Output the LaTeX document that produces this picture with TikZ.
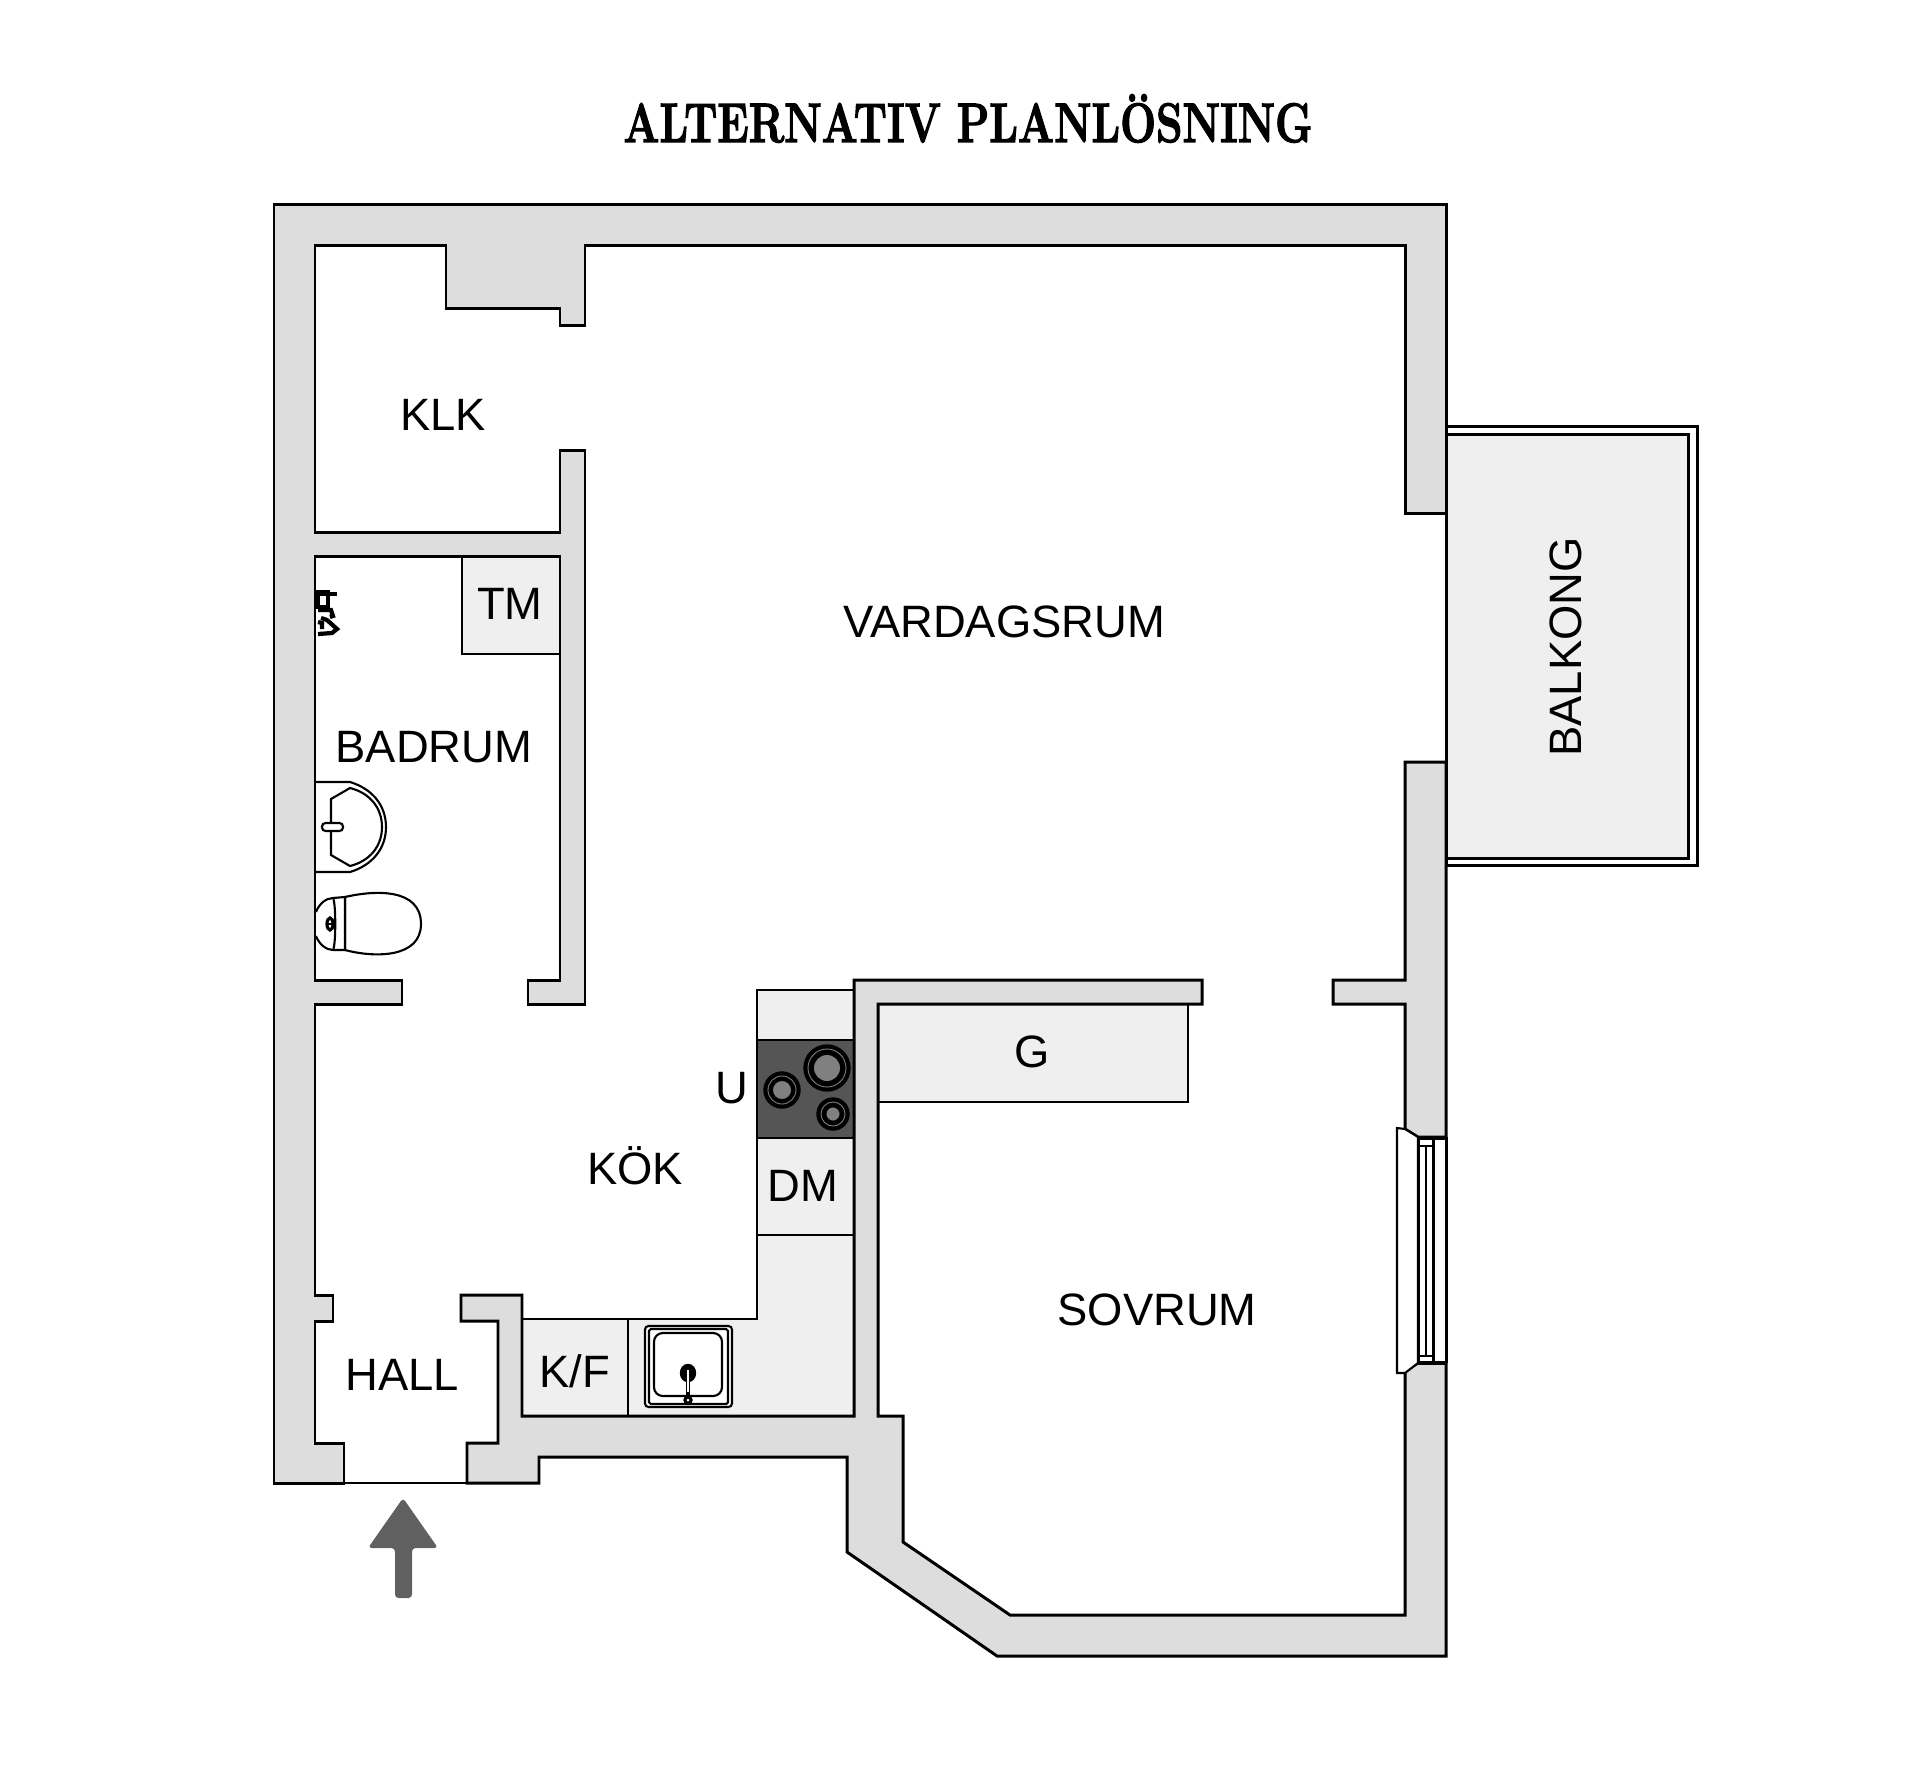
\documentclass[tikz,border=0pt]{standalone}
\usepackage{fontspec}
\newfontfamily\labelfont{Liberation Sans}
\newfontfamily\titlefont[BoldFeatures={FakeBold=2.4}]{Latin Modern Roman}

\begin{document}
\begin{tikzpicture}[x=0.01cm,y=-0.01cm]
  \definecolor{wallgrey}{HTML}{DDDDDD}
  \definecolor{unitgrey}{HTML}{EFEFEF}
  \definecolor{hobgrey}{HTML}{555555}
  \definecolor{ringgrey}{HTML}{808080}
  \definecolor{arrowgrey}{HTML}{606060}
  \tikzstyle{wall}=[draw=black,fill=wallgrey,line width=0.85pt,line join=miter]
  \tikzstyle{unit}=[draw=black,fill=unitgrey,line width=0.7pt]
  \tikzstyle{fixture}=[draw=black,fill=white,line width=0.6pt]
  \tikzstyle{roomlabel}=[font=\labelfont\fontsize{12.9pt}{14pt}\selectfont,inner sep=0pt,text height=9.3pt,text depth=0pt]
  \useasboundingbox (0,0) rectangle (1920,1787);

  % balcony
  \draw[line width=0.85pt,fill=white] (1446,426) rectangle (1697,865);
  \draw[line width=0.85pt,fill=unitgrey] (1446,434) rectangle (1688,858);

  % kitchen units
  \fill[unitgrey] (522,1319) -- (757,1319) -- (757,990) -- (854,990) -- (854,1416) -- (522,1416) -- cycle;
  \draw[line width=0.7pt] (522,1319) -- (757,1319) -- (757,990) -- (854,990);
  \draw[line width=0.7pt] (522,1416) -- (854,1416);
  \draw[line width=0.7pt] (757,1235) -- (854,1235);
  \draw[line width=0.7pt] (628,1319) -- (628,1416);
  \draw[line width=0.7pt,fill=hobgrey] (757,1040) rectangle (854,1138);
  \draw[unit] (878,1004) rectangle (1188,1102);
  \draw[unit] (462,556) rectangle (560,654);

  % walls
  \draw[wall] (344,1483) -- (274,1483) -- (274,204) -- (1446,204) -- (1446,513) -- (1405,513) -- (1405,245)
    -- (585,245) -- (585,325) -- (560,325) -- (560,308) -- (446,308) -- (446,245) -- (315,245) -- (315,532)
    -- (560,532) -- (560,450) -- (585,450) -- (585,1004) -- (528,1004) -- (528,980) -- (560,980) -- (560,556)
    -- (315,556) -- (315,980) -- (402,980) -- (402,1004) -- (315,1004) -- (315,1295) -- (333,1295) -- (333,1321)
    -- (315,1321) -- (315,1443) -- (344,1443) -- cycle;
  \draw[wall] (467,1483) -- (539,1483) -- (539,1457) -- (847,1457) -- (847,1552) -- (997,1656) -- (1446,1656)
    -- (1446,1363) -- (1418,1363) -- (1405,1371) -- (1405,1615) -- (1010,1615) -- (903,1542) -- (903,1416)
    -- (878,1416) -- (878,1004) -- (1202,1004) -- (1202,980) -- (854,980) -- (854,1416) -- (522,1416)
    -- (522,1295) -- (461,1295) -- (461,1321) -- (498,1321) -- (498,1443) -- (467,1443) -- cycle;
  \draw[wall] (1333,980) -- (1405,980) -- (1405,762) -- (1446,762) -- (1446,1137) -- (1418,1137) -- (1405,1129)
    -- (1405,1004) -- (1333,1004) -- cycle;
  \draw[line width=0.7pt] (344,1483) -- (467,1483);

  % window
  \draw[fixture] (1405,1129) -- (1397,1128) -- (1397,1373) -- (1405,1373) -- (1418,1363) -- (1418,1137) -- cycle;
  \draw[line width=0.85pt] (1418,1137) -- (1418,1363);
  \draw[line width=0.85pt] (1433,1137) -- (1433,1363);
  \draw[line width=0.85pt] (1446,1137) -- (1446,1363);
  \draw[line width=0.7pt] (1426,1146) -- (1426,1356);
  \draw[line width=0.7pt] (1418,1146) -- (1433,1146);
  \draw[line width=0.7pt] (1418,1356) -- (1433,1356);
  \draw[line width=1pt] (1418,1138) -- (1446,1138);
  \draw[line width=1pt] (1418,1363) -- (1446,1363);

  % hob
  \draw[fill=black,line width=0.4pt] (827,1068) circle (23);
  \draw[draw=ringgrey,line width=0.25pt] (827,1068) circle (19);
  \draw[draw=black,fill=ringgrey,line width=0.5pt] (827,1068) circle (14);
  \draw[fill=black,line width=0.4pt] (782,1090) circle (18);
  \draw[draw=ringgrey,line width=0.25pt] (782,1090) circle (14);
  \draw[draw=black,fill=ringgrey,line width=0.5pt] (782,1090) circle (10);
  \draw[fill=black,line width=0.4pt] (833,1114) circle (16);
  \draw[draw=ringgrey,line width=0.25pt] (833,1114) circle (12);
  \draw[draw=black,fill=ringgrey,line width=0.5pt] (833,1114) circle (7.5);

  % sink
  \draw[fixture,rounded corners=1pt] (645,1326) rectangle (732,1407);
  \draw[fixture,rounded corners=0.5pt] (649,1329) rectangle (728,1404);
  \draw[fixture,rounded corners=2.5pt] (654,1333) rectangle (722,1396);
  \draw[fill=black] (688,1373) ellipse (7.5 and 8.5);
  \draw[line width=1.3pt] (688,1373) -- (688,1400);
  \draw[white,line width=0.35pt] (688,1370) -- (688,1392);
  \draw[fill=black] (688,1400) circle (4);
  \fill[white] (688,1400) circle (1.5);

  % washbasin
  \draw[fixture] (316,782) -- (350,782) .. controls (373,789) and (386,806) .. (386,827)
    .. controls (386,848) and (373,865) .. (350,872) -- (316,872);
  \draw[fixture] (331,799) -- (350,788) .. controls (370,793) and (382,808) .. (382,827)
    .. controls (382,846) and (370,861) .. (350,866) -- (331,855) -- cycle;
  \draw[fixture,rounded corners=1pt] (322,823) rectangle (343,831);

  % toilet
  \draw[fixture] (345,897) .. controls (375,890) and (421,888) .. (421,924)
    .. controls (421,958) and (375,958) .. (345,950) -- cycle;
  \draw[fixture] (316,912) .. controls (319,904) and (326,898) .. (333,898) -- (345,897) -- (345,950)
    -- (333,950) .. controls (326,950) and (319,944) .. (316,936);
  \draw[line width=0.6pt] (333,898) .. controls (336,902) and (336,946) .. (333,950);
  \draw[fixture,line width=0.9pt] (330,924) ellipse (3 and 6);
  \draw[line width=0.5pt] (327,924) -- (333,924);

  % tap
  \draw[line width=0.9pt] (318,592) rectangle (328,607);
  \draw[line width=1pt] (318,594) -- (337,594);
  \draw[line width=1.2pt] (318,610) -- (331,610) -- (333,616) -- (330,617);
  \draw[line width=1.2pt] (321,618) -- (327,620) -- (337,629) -- (332,633) -- (318,634);
  \draw[line width=1.2pt] (318,622) -- (322,623) -- (322,629);

  % entrance arrow
  \fill[arrowgrey,rounded corners=1pt] (403,1498) -- (438,1548) -- (412,1548) -- (412,1598) -- (395,1598)
    -- (395,1548) -- (368,1548) -- cycle;

  % labels
  \node[anchor=base,xscale=0.764,transform shape,inner sep=0pt] (title) at (968,142) {\titlefont\fontsize{15.8pt}{18pt}\selectfont\bfseries ALTERNATIV PLANLÖSNING};
  \node[roomlabel] (klk) at (443,414) {KLK};
  \node[roomlabel] (tm) at (510,603) {TM};
  \node[roomlabel] (badrum) at (434,746) {BADRUM};
  \node[roomlabel] (vardagsrum) at (1004,621) {VARDAGSRUM};
  \node[roomlabel,rotate=90] (balkong) at (1565,647) {BALKONG};
  \node[roomlabel] (g) at (1032,1051) {G};
  \node[roomlabel] (u) at (732,1087) {U};
  \node[roomlabel] (dm) at (803,1185) {DM};
  \node[roomlabel] (kok) at (635,1168) {KÖK};
  \node[roomlabel] (sovrum) at (1157,1309) {SOVRUM};
  \node[roomlabel] (kf) at (575,1371) {K/F};
  \node[roomlabel] (hall) at (402,1374) {HALL};
\end{tikzpicture}
\end{document}
